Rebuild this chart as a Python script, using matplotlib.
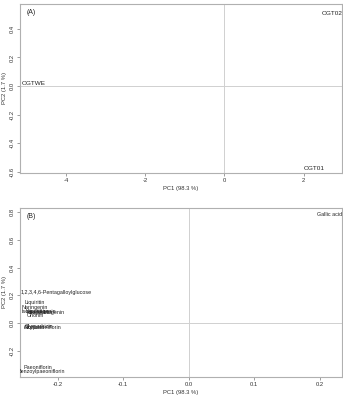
import matplotlib
matplotlib.use('Agg')
import matplotlib.pyplot as plt

plt.rcParams['font.family'] = ['Liberation Sans', 'DejaVu Sans']
plt.rcParams['axes.unicode_minus'] = False

# Panel A: sample scores
sample_names = ['OGT02', 'OGTWE', 'OGT01']
sample_pc1 = [2.72, -4.81, 2.28]
sample_pc2 = [0.51, 0.02, -0.58]

# Panel B: compound loadings
compound_names = ['Gallic acid', '1,2,3,4,6-Pentagalloylglucose', 'Liquiritin', 'Naringenin',
                  'Isoliquiritin', 'Liquiritigenin', 'Isoliquiritigenin', 'Hesperidin', 'Ononin',
                  'Glycyrrhizin', 'Albiflorin', 'Oxypaeoniflorin',
                  'Paeoniflorin', 'Benzoylpaeoniflorin']
compound_pc1 = [0.215, -0.203, -0.236, -0.235,
                -0.236, -0.226, -0.218, -0.228, -0.234,
                -0.228, -0.236, -0.224,
                -0.230, -0.225]
compound_pc2 = [0.78, 0.22, 0.15, 0.11,
                0.085, 0.082, 0.078, 0.074, 0.055,
                -0.025, -0.03, -0.035,
                -0.32, -0.35]

spine_col = '#b0b0b0'
line_col = '#d0d0d0'

fig = plt.figure(figsize=(3.43, 4.0), dpi=100)
axA = fig.add_axes([0.058, 0.5675, 0.939, 0.4225])
axB = fig.add_axes([0.058, 0.0575, 0.939, 0.4225])


def style(ax):
    for s in ax.spines.values():
        s.set_color(spine_col)
        s.set_linewidth(0.8)
    ax.tick_params(axis='both', labelsize=4.2, length=2, width=0.5, color='#777777',
                   pad=1.5, labelcolor='#333333')
    for lab in ax.get_yticklabels():
        lab.set_rotation(90)
        lab.set_va('center')
    ax.axhline(0, color=line_col, lw=0.7, zorder=0)
    ax.axvline(0, color=line_col, lw=0.7, zorder=0)


axA.set_xlim(-5.17, 2.97)
axA.set_ylim(-0.61, 0.575)
axA.set_xticks([-4, -2, 0, 2])
axA.set_xticklabels(['-4', '-2', '0', '2'])
axA.set_yticks([-0.6, -0.4, -0.2, 0.0, 0.2, 0.4])
axA.set_yticklabels(['-0.6', '-0.4', '-0.2', '0.0', '0.2', '0.4'])
style(axA)
for n, x, y in zip(sample_names, sample_pc1, sample_pc2):
    axA.text(x, y, n, fontsize=4.6, ha='center', va='center', color='#222222', clip_on=True)
axA.text(0.022, 0.95, '(A)', transform=axA.transAxes, fontsize=5, color='#222222', va='center')
axA.set_xlabel('PC1 (98.3 %)', fontsize=4.2, labelpad=2, color='#333333')
axA.set_ylabel('PC2 (1.7 %)', fontsize=4.2, labelpad=2, color='#333333')

axB.set_xlim(-0.258, 0.234)
axB.set_ylim(-0.39, 0.83)
axB.set_xticks([-0.2, -0.1, 0.0, 0.1, 0.2])
axB.set_xticklabels(['-0.2', '-0.1', '0.0', '0.1', '0.2'])
axB.set_yticks([-0.2, 0.0, 0.2, 0.4, 0.6, 0.8])
axB.set_yticklabels(['-0.2', '0.0', '0.2', '0.4', '0.6', '0.8'])
style(axB)
for n, x, y in zip(compound_names, compound_pc1, compound_pc2):
    axB.text(x, y, n, fontsize=3.9, ha='center', va='center', color='#222222', clip_on=True)
axB.text(0.022, 0.95, '(B)', transform=axB.transAxes, fontsize=5, color='#222222', va='center')
axB.set_xlabel('PC1 (98.3 %)', fontsize=4.2, labelpad=2, color='#333333')
axB.set_ylabel('PC2 (1.7 %)', fontsize=4.2, labelpad=2, color='#333333')

fig.savefig('out.png', dpi=100)
